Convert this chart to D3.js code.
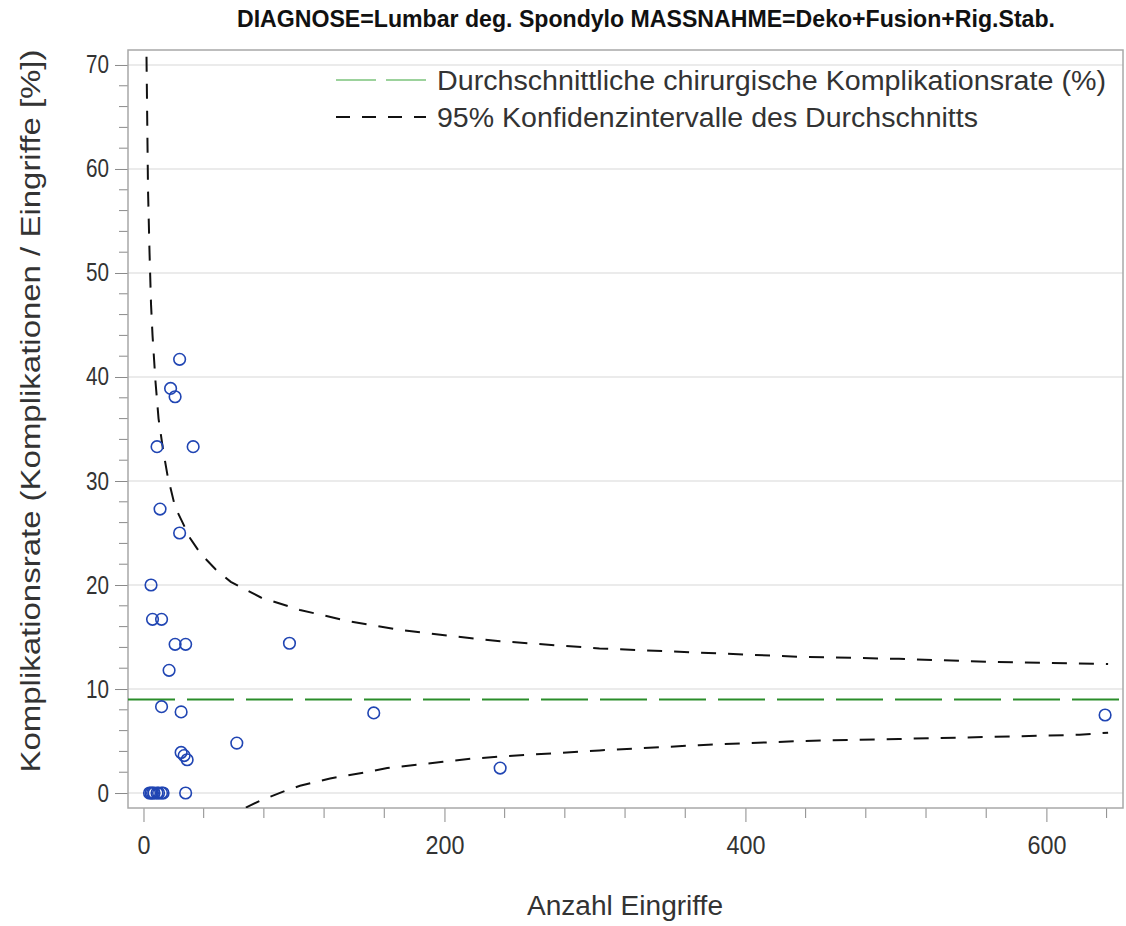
<!DOCTYPE html>
<html><head><meta charset="utf-8">
<script src="https://cdn.jsdelivr.net/npm/d3@7/dist/d3.min.js"></script>
<style>
html,body{margin:0;padding:0;background:#fff;}
svg text{font-family:"Liberation Sans Narrow","Arial Narrow","Liberation Sans",sans-serif;}
</style></head>
<body><svg id="chart" width="1126" height="926"></svg>
<script>
// ---- data ----
const titleText = "DIAGNOSE=Lumbar deg. Spondylo MASSNAHME=Deko+Fusion+Rig.Stab.";
const xLabel = "Anzahl Eingriffe";
const yLabel = "Komplikationsrate (Komplikationen / Eingriffe [%])";
const legendLabels = ["Durchschnittliche chirurgische Komplikationsrate (%)", "95% Konfidenzintervalle des Durchschnitts"];
const xMajorTicks = [0, 200, 400, 600];
const xMinorTicks = [40, 80, 120, 160, 240, 280, 320, 360, 440, 480, 520, 560, 640];
const yMajorTicks = [0, 10, 20, 30, 40, 50, 60, 70];
const meanRate = 9.0;
// observed hospitals: number of procedures and complication rate (%)
const pointN    = [5, 6, 9, 11, 12, 12, 17, 18, 21, 21, 24, 24, 25, 25, 27, 29, 28, 28, 33, 62, 97, 153, 237, 639, 4, 5, 6, 7, 9, 10, 12, 13];
const pointRate = [20.0, 16.7, 33.3, 27.3, 16.7, 8.3, 11.8, 38.9, 14.3, 38.1, 41.7, 25.0, 7.8, 3.9, 3.6, 3.2, 14.3, 0, 33.3, 4.8, 14.4, 7.7, 2.4, 7.5, 0, 0, 0, 0, 0, 0, 0, 0];
// confidence limits
const upperN    = [2, 3, 4, 5, 6, 8, 10, 13, 16, 21, 26, 31, 38, 48, 58, 78, 104, 137, 170, 204, 237, 303, 369, 436, 502, 565, 641];
const upperRate = [70.8, 58, 52, 47, 44, 39.5, 36, 33, 30.5, 27.5, 26, 24.5, 23, 21.5, 20.3, 18.8, 17.6, 16.5, 15.7, 15.1, 14.6, 13.9, 13.5, 13.1, 12.9, 12.6, 12.4];
const lowerN    = [68, 78, 94, 104, 124, 144, 162, 180, 199, 218, 237, 303, 369, 436, 502, 565, 622, 641];
const lowerRate = [-1.4, -0.7, 0.2, 0.7, 1.4, 1.9, 2.4, 2.7, 3.0, 3.3, 3.5, 4.1, 4.6, 5.0, 5.2, 5.4, 5.6, 5.8];

// ---- layout ----
const L = 128, R = 1123, T = 50, B = 808;
const svg = d3.select("#chart");
const x = d3.scaleLinear().domain([-10.3, 650.9]).range([L, R]);
const y = d3.scaleLinear().domain([-1.44, 71.44]).range([B, T]);
const txt = "#333";
const axisCol = "#8a8a8a";

svg.append("defs").append("clipPath").attr("id","clip")
  .append("rect").attr("x",L).attr("y",T).attr("width",R-L).attr("height",B-T);

// gridlines
svg.append("g").selectAll("line").data(yMajorTicks).join("line")
  .attr("x1",L).attr("x2",R).attr("y1",d=>y(d)).attr("y2",d=>y(d))
  .attr("stroke","#e4e4e4").attr("stroke-width",1.5);

// y axis
const yAx = svg.append("g").attr("transform",`translate(${L},0)`)
  .call(d3.axisLeft(y).tickValues(yMajorTicks).tickSize(13).tickPadding(6).tickFormat(d3.format("d")));
yAx.select(".domain").remove();
yAx.selectAll(".tick line").attr("stroke",axisCol);
yAx.selectAll("text").attr("fill",txt).style("font-size","25px")
  .attr("lengthAdjust","spacingAndGlyphs").attr("textLength",d=>String(d).length*11.5);
const yMinor = d3.range(0, 71, 2).filter(v => v % 10 !== 0);
svg.append("g").selectAll("line").data(yMinor).join("line")
  .attr("x1",L-9).attr("x2",L).attr("y1",d=>y(d)).attr("y2",d=>y(d)).attr("stroke",axisCol);

// x axis
const xAx = svg.append("g").attr("transform",`translate(0,${B})`)
  .call(d3.axisBottom(x).tickValues(xMajorTicks).tickSize(14).tickPadding(14).tickFormat(d3.format("d")));
xAx.select(".domain").remove();
xAx.selectAll(".tick line").attr("stroke",axisCol);
xAx.selectAll("text").attr("fill",txt).style("font-size","25px")
  .attr("lengthAdjust","spacingAndGlyphs").attr("textLength",d=>String(d).length*13);
svg.append("g").selectAll("line").data(xMinorTicks).join("line")
  .attr("x1",d=>x(d)).attr("x2",d=>x(d)).attr("y1",B).attr("y2",B+10).attr("stroke",axisCol);

// frame
svg.append("rect").attr("x",L).attr("y",T).attr("width",R-L).attr("height",B-T)
  .attr("fill","none").attr("stroke","#a8a8a8").attr("stroke-width",1.5);

const plot = svg.append("g").attr("clip-path","url(#clip)");

// mean line
plot.append("line").attr("x1",L).attr("x2",R).attr("y1",y(meanRate)).attr("y2",y(meanRate))
  .attr("stroke","#2a8d2a").attr("stroke-width",2).attr("stroke-dasharray","47,12");

// confidence limits
const line = d3.line().x(d=>x(d[0])).y(d=>y(d[1]));
plot.append("path").attr("d", line(upperN.map((n,i)=>[n,upperRate[i]])))
  .attr("fill","none").attr("stroke","#111").attr("stroke-width",2).attr("stroke-dasharray","15,12");
plot.append("path").attr("d", line(lowerN.map((n,i)=>[n,lowerRate[i]])))
  .attr("fill","none").attr("stroke","#111").attr("stroke-width",2).attr("stroke-dasharray","15,12");

// points
plot.append("g").selectAll("circle").data(pointN.map((n,i)=>[n,pointRate[i]])).join("circle")
  .attr("cx",d=>x(d[0])).attr("cy",d=>y(d[1])).attr("r",5.8)
  .attr("fill","none").attr("stroke","#2045b3").attr("stroke-width",1.6);

// legend
const lg = svg.append("g");
const legStyles = [{c:"#7cc47c", dash:"40,10", w:1.5}, {c:"#111", dash:"14,12", w:2}];
const legWidths = [669, 541];
legendLabels.forEach((lab,i)=>{
  const yy = 80 + i*37;
  lg.append("line").attr("x1",336).attr("x2",426).attr("y1",yy).attr("y2",yy)
    .attr("stroke",legStyles[i].c).attr("stroke-width",legStyles[i].w).attr("stroke-dasharray",legStyles[i].dash);
  lg.append("text").attr("x",437).attr("y",yy).attr("dy","0.36em").attr("fill",txt)
    .style("font-size","27px").attr("lengthAdjust","spacingAndGlyphs").attr("textLength",legWidths[i]).text(lab);
});

// titles
svg.append("text").attr("x",646).attr("y",27).attr("text-anchor","middle").attr("fill","#111")
  .style("font-size","23px").style("font-weight","bold")
  .attr("lengthAdjust","spacingAndGlyphs").attr("textLength",818).text(titleText);
svg.append("text").attr("x",625).attr("y",906).attr("dy","0.35em").attr("text-anchor","middle").attr("fill",txt)
  .style("font-size","27px").attr("lengthAdjust","spacingAndGlyphs").attr("textLength",196).text(xLabel);
svg.append("text").attr("transform","translate(31,411) rotate(-90)").attr("dy","0.35em").attr("text-anchor","middle")
  .attr("fill",txt).style("font-size","27px").attr("lengthAdjust","spacingAndGlyphs").attr("textLength",723).text(yLabel);
</script></body></html>
